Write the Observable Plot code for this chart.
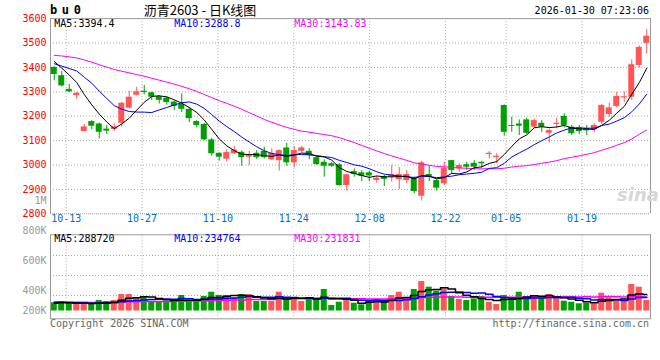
<!DOCTYPE html>
<html><head><meta charset="utf-8">
<script src="https://cdn.jsdelivr.net/npm/d3@7"></script>
<script src="https://cdn.jsdelivr.net/npm/@observablehq/plot@0.6"></script>
<style>
body{margin:0;background:#fff;}
#wrap{position:relative;width:660px;height:360px;overflow:hidden;font-family:"DejaVu Sans Mono",monospace;font-size:10px;}
.t{position:absolute;white-space:nowrap;line-height:10px;}
#wrap svg{position:absolute;left:0;overflow:visible;}
</style></head><body><div id="wrap"></div>
<script>
// ---- data ----
const tickLabels = ["10-13","10-27","11-10","11-24","12-08","12-22","01-05","01-19"];
const tickIndex  = [2, 12, 22, 32, 42, 52, 60, 70];
const priceTicks = [3600, 3500, 3400, 3300, 3200, 3100, 3000, 2900, 2800];
const priceGrid  = [3500, 3400, 3300, 3200, 3100, 3000, 2900];
const volTickLabels = ["1M", "800K", "600K", "400K", "200K"];
const volGrid = [960000, 614000, 268000];

const open  = [3400,3366,3310,3284,3137,3178,3168,3147,3146,3171, 3233,3286,3302,3296,3280,3274,3258,3248,3228,3178,
               3166,3103,3048,3024,3046,3052,3032,3048,3056,3021, 3018,3070,3009,3056,3056,3030,3011,3005,3001,2916,
               2973,2968,2968,2937,2953,2950,2940,2936,2946,2872, 2961,2936,2923,3018,2984,3001,3007,3011,3043,3030,
               3244,3162,3168,3185,3155,3171,3130,3166,3199,3155, 3152,3150,3145,3175,3207,3240,3275,3278,3408,3499];
const high  = [3403,3383,3330,3298,3166,3182,3172,3162,3168,3256, 3302,3318,3326,3299,3284,3280,3262,3292,3235,3182,
               3170,3110,3050,3062,3077,3058,3056,3059,3073,3066, 3062,3089,3076,3077,3066,3035,3021,3010,3006,2962,
               2984,2977,2975,2953,2957,2998,2990,2977,2950,3015, 2998,2940,3011,3018,3005,3011,3018,3015,3055,3046,
               3246,3196,3185,3192,3189,3182,3148,3192,3210,3162, 3162,3162,3169,3248,3253,3298,3300,3431,3488,3555];
const low   = [3345,3320,3297,3268,3134,3145,3107,3125,3138,3155, 3230,3283,3288,3264,3250,3245,3223,3215,3174,3152,
               3100,3036,3016,3012,3043,2995,2998,3022,3025,3018, 2975,2995,2988,3050,3021,2998,2950,2990,2913,2893,
               2950,2932,2932,2925,2912,2930,2900,2923,2882,2852, 2932,2893,2916,2961,2970,2977,2977,2987,3025,3005,
               3118,3134,3121,3124,3148,3134,3089,3148,3152,3121, 3124,3121,3132,3166,3196,3234,3256,3265,3397,3455];
const close = [3371,3324,3300,3294,3156,3159,3134,3139,3156,3253, 3278,3300,3297,3278,3265,3256,3240,3228,3190,3162,
               3103,3046,3032,3051,3062,3030,3039,3030,3030,3048, 3059,3009,3059,3070,3039,3002,2995,2995,2916,2960,
               2961,2954,2955,2946,2941,2961,2961,2961,2891,3009, 2950,2905,2987,2977,2998,2991,2991,3005,3048,3036,
               3134,3158,3159,3130,3182,3155,3141,3171,3162,3128, 3137,3140,3162,3244,3234,3281,3280,3411,3482,3528];
const volume = [141000,164000,135000,112000,112000,124000,181000,164000,181000,285000,
                285000,221000,251000,164000,164000,164000,164000,268000,164000,164000,
                251000,325000,268000,268000,221000,285000,285000,164000,164000,164000,
                325000,221000,221000,164000,210000,221000,372000,95000,152000,181000,
                135000,107000,181000,193000,164000,268000,325000,221000,372000,510000,
                412000,343000,383000,251000,199000,181000,210000,251000,152000,112000,
                268000,228000,325000,251000,251000,221000,285000,210000,169000,152000,
                124000,135000,124000,308000,228000,199000,181000,458000,412000,181000];
// estimated sessions before the visible window (only used to warm up the moving averages)
const priorClose = [3400,3410,3420,3415,3430,3440,3435,3450,
                    3470,3480,3500,3510,3520,3505,3495,3490,3500,3485,3490,3488,
                    3420,3400,3395,3410,3404, 3460,3440,3450,3400];
const priorVolume = [140000,150000,160000,155000,145000,150000,165000,150000,140000,160000,
                     155000,150000,145000,160000,150000,155000,148000,152000,150000,160000,
                     170000,165000,175000,160000,175000, 130000,135000,140000,129000];
const priceLegend = ["MA5:3394.4", "MA10:3288.8", "MA30:3143.83"];
const volLegend   = ["MA5:288720", "MA10:234764", "MA30:231831"];
const titleText = "沥青2603 - 日K线图";
const codeText = "bu0";
const stampText = "2026-01-30 07:23:06";
const copyText = "Copyright 2026 SINA.COM";
const urlText = "http://finance.sina.com.cn";

// ---- build ----
const RED = "#ff5555", GREEN = "#00a000", GRID = "#aaaaaa", FRAME = "#999999";
const MA_COLORS = ["#000000", "#0000ff", "#ff00ff"];
const P = priorClose.length;
const allC = priorClose.concat(close);
const allV = priorVolume.concat(volume);
const maOf = (arr, w) => close.map((_, i) => ({i, v: d3.mean(arr.slice(P + i - w + 1, P + i + 1))}));
const candles = close.map((c, i) => ({i, open: open[i], high: high[i], low: low[i], close: c, vol: volume[i], up: c >= open[i]}));
const ticks = tickIndex.map((i, k) => ({i, label: tickLabels[k]}));
// Sina places its date grid on a slightly wider spacing than the bars
const gridPos = d => -0.43 + 1.0114 * d.i;

const wrap = document.getElementById("wrap");
const font = {fontFamily: "DejaVu Sans Mono", fontSize: "10px", background: "transparent", overflow: "visible"};

const price = Plot.plot({
  width: 660, height: 230, marginLeft: 50, marginRight: 10, marginTop: 18.1, marginBottom: 16.7,
  style: font,
  x: {domain: [-0.5, 79.5], axis: null},
  y: {domain: [2800, 3600], axis: null},
  marks: [
    Plot.ruleY(priceGrid, {stroke: GRID, strokeDasharray: "1,2"}),
    Plot.ruleX(ticks, {x: gridPos, stroke: GRID, strokeDasharray: "1,2"}),
    Plot.ruleY([2800], {stroke: FRAME, strokeDasharray: "1,1"}),
    Plot.ruleY([3600], {stroke: FRAME}),
    Plot.ruleX([-0.5, 79.5], {stroke: FRAME}),
    Plot.ruleX(candles, {x: "i", y1: "low", y2: "high", stroke: d => d.up ? RED : GREEN, strokeWidth: 1}),
    Plot.rect(candles, {x1: d => d.i - 0.4, x2: d => d.i + 0.4, y1: "open", y2: "close", fill: d => d.up ? RED : GREEN}),
    Plot.line(maOf(allC, 30), {x: "i", y: "v", stroke: MA_COLORS[2], strokeWidth: 1}),
    Plot.line(maOf(allC, 10), {x: "i", y: "v", stroke: MA_COLORS[1], strokeWidth: 1}),
    Plot.line(maOf(allC, 5), {x: "i", y: "v", stroke: MA_COLORS[0], strokeWidth: 1}),
    Plot.text(priceTicks, {y: d => d, text: d => String(d), frameAnchor: "left", textAnchor: "end", dx: -4, fill: "#ff0000"}),
    Plot.text(ticks, {x: gridPos, text: "label", frameAnchor: "bottom", dy: 8, fill: "#0070c0"})
  ]
});
price.style.top = "0px";
wrap.appendChild(price);

const vol = Plot.plot({
  width: 660, height: 100, marginLeft: 50, marginRight: 10, marginTop: 6.3, marginBottom: 9.7,
  style: font,
  x: {domain: [-0.5, 79.5], axis: null},
  y: {domain: [-134940, 1318260], axis: null},
  marks: [
    Plot.ruleY(volGrid, {stroke: GRID, strokeDasharray: "1,2"}),
    Plot.ruleX(ticks, {x: gridPos, stroke: GRID, strokeDasharray: "1,2"}),
    Plot.rect(candles, {x1: d => d.i - 0.4, x2: d => d.i + 0.4, y1: 0, y2: "vol", fill: d => d.up ? RED : GREEN}),
    Plot.line(maOf(allV, 30), {x: "i", y: "v", stroke: MA_COLORS[2], strokeWidth: 1.5, curve: "step"}),
    Plot.line(maOf(allV, 10), {x: "i", y: "v", stroke: MA_COLORS[1], strokeWidth: 1.5, curve: "step"}),
    Plot.line(maOf(allV, 5), {x: "i", y: "v", stroke: MA_COLORS[0], strokeWidth: 1.5, curve: "step"}),
    Plot.frame({stroke: FRAME})
  ]
});
vol.style.top = "228px";
wrap.appendChild(vol);

// ---- texts ----
function addText(txt, css) {
  const d = document.createElement("div");
  d.className = "t";
  d.textContent = txt;
  Object.assign(d.style, css);
  wrap.appendChild(d);
  return d;
}
addText(codeText, {left: "50px", top: "4px", fontSize: "12px", lineHeight: "12px", fontWeight: "bold", letterSpacing: "4.6px", color: "#000"});
addText(titleText, {left: "100px", width: "200px", textAlign: "center", top: "3px", fontSize: "13px", lineHeight: "14px", fontFamily: "'Noto Sans CJK SC', 'DejaVu Sans Mono', sans-serif", color: "#000"});
addText(stampText, {right: "11px", top: "6.2px", color: "#000"});
const legendLeft = [54.3, 174.3, 294.3];
priceLegend.forEach((s, k) => addText(s, {left: legendLeft[k] + "px", top: "19.2px", color: MA_COLORS[k]}));
volLegend.forEach((s, k) => addText(s, {left: legendLeft[k] + "px", top: "233.6px", color: MA_COLORS[k]}));
const volLabelY = [200.7, 231, 260.7, 290.7, 310.7];
volTickLabels.forEach((s, k) => addText(s, {right: "613.5px", top: (volLabelY[k] - 4.8) + "px", color: "#999", textAlign: "right"}));
addText(copyText, {left: "50px", top: "318.5px", color: "#666"});
addText(urlText, {right: "11px", top: "318.5px", color: "#666"});
addText("sina", {left: "617px", top: "186px", fontSize: "18px", lineHeight: "18px", fontStyle: "italic", fontWeight: "bold", fontFamily: "'DejaVu Sans', sans-serif", color: "#d6d6d6"});
</script></body></html>
